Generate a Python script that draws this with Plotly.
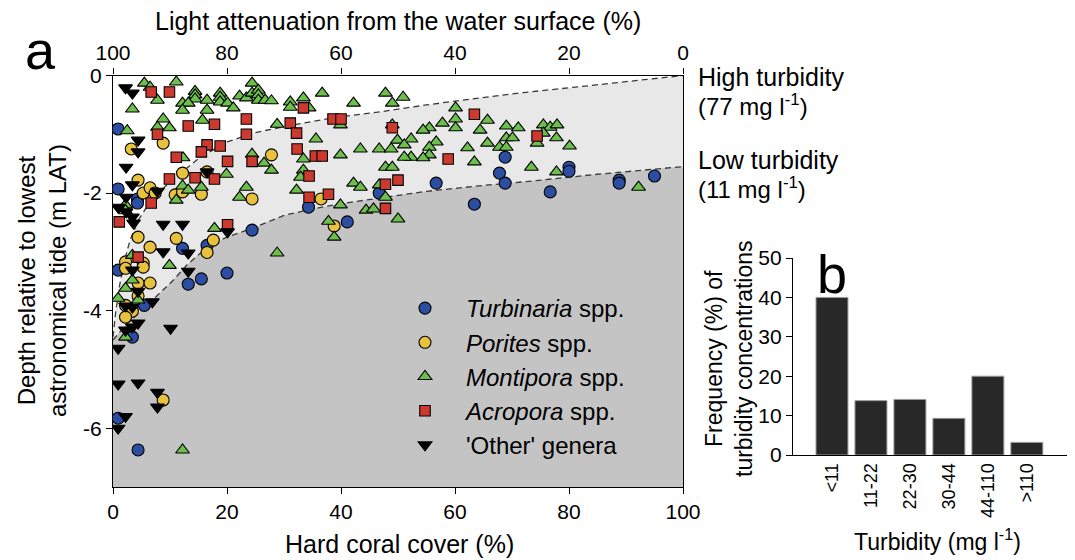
import plotly.graph_objects as go

# ---------------- data (panel a) ----------------
TURB_X = [0.9, 0.9, 4.3, 4.3, 34.3, 24.4, 41.1, 46.7, 12.2, 16.5, 68.8, 67.8, 68.8, 56.7, 63.4,
          76.7, 80.0, 80.0, 88.8, 88.8, 95.0, 0.9, 20.0, 15.5, 13.2, 5.5, 3.4, 0.9, 4.4]
TURB_Y = [-0.91, -1.93, -2.10, -2.17, -2.24, -2.63, -2.49, -2.00, -2.94, -2.89, -1.39, -1.66, -1.83, -1.83, -2.19,
          -1.98, -1.56, -1.63, -1.78, -1.83, -1.71, -3.31, -3.36, -3.46, -3.55, -3.91, -4.45, -5.83, -6.37]

POR_X = [8.8, 3.2, 4.4, 5.3, 6.5, 7.4, 12.2, 10.9, 12.2, 15.5, 24.4, 27.8, 36.5, 38.8, 4.4, 11.1,
         6.5, 17.6, 16.5, 2.2, 5.3, 2.2, 5.3, 4.4, 6.5, 4.4, 2.2, 3.4, 2.2, 8.8, 16.5]
POR_Y = [-1.15, -1.25, -1.78, -2.00, -1.91, -2.00, -1.66, -2.03, -1.98, -2.02, -2.10, -1.35, -2.10, -2.56, -2.75, -2.77,
         -2.92, -2.80, -3.01, -3.17, -3.19, -3.28, -3.26, -3.53, -3.53, -3.75, -3.91, -4.01, -4.11, -5.52, -1.64]

MONT_X = [5.5, 6.5, 11.1, 7.8, 3.4, 14.4, 14.4, 14.4, 12.2, 13.2, 12.2, 16.5, 16.5, 18.8, 18.8, 18.8,
          20.1, 21.1, 22.2, 23.4, 24.4, 24.4, 25.5, 25.5, 25.5, 26.7, 27.8, 31.1, 31.1, 33.4, 34.4, 36.7,
          42.2, 47.8, 49.0, 50.9,
          8.8, 7.8, 9.9, 2.5, 15.7, 28.8, 35.6, 39.9, 43.4, 46.7, 48.8, 49.9, 39.9, 33.4, 33.4, 32.9,
          26.5, 27.8, 24.4, 19.9, 23.4, 22.2, 15.5, 12.2, 13.2, 11.1, 32.2, 42.2, 43.4, 46.7, 47.8, 39.9,
          44.4, 45.7, 50.0, 37.8, 38.8, 17.8, 28.8, 2.2, 2.2, 12.3, 49.0,
          60.1, 60.1, 60.1, 57.8, 65.7, 64.4, 55.5, 54.4, 69.0, 71.1, 75.5, 76.7, 77.9, 75.5, 77.8, 69.0,
          70.1, 67.8, 69.0, 65.7, 62.2, 74.4, 80.1, 52.3, 51.1, 56.7, 55.5, 52.3, 51.1, 55.5, 54.4, 63.4,
          47.8, 49.0, 73.4, 77.8, 92.2,
          3.4, 9.9, 3.4, 2.2, 0.9, 4.4, 2.2, 12.2]
MONT_Y = [-0.13, -0.20, -0.11, -0.42, -0.57, -0.27, -0.33, -0.40, -0.47, -0.47, -0.59, -0.42, -0.59, -0.30, -0.37, -0.45,
          -0.47, -0.55, -0.35, -0.38, -0.13, -0.30, -0.25, -0.33, -0.42, -0.42, -0.43, -0.45, -0.54, -0.38, -0.55, -0.30,
          -0.47, -0.30, -0.47, -0.37,
          -0.74, -0.88, -0.89, -0.94, -0.76, -0.83, -1.08, -0.84, -1.25, -1.25, -1.25, -1.10, -1.35, -1.42, -1.61, -1.73,
          -1.49, -1.61, -1.34, -1.68, -1.90, -2.07, -1.90, -1.88, -1.95, -2.12, -1.95, -1.83, -1.90, -1.86, -2.07, -2.20,
          -2.29, -2.27, -2.44, -2.48, -2.75, -2.60, -3.02, -2.20, -2.30, -1.40, -0.84,
          -0.55, -0.74, -0.89, -0.81, -0.76, -0.93, -0.89, -0.93, -0.86, -0.89, -0.84, -0.88, -0.84, -0.98, -1.06, -1.06,
          -1.06, -1.22, -1.22, -1.15, -1.23, -1.15, -1.20, -1.08, -1.18, -1.13, -1.22, -1.39, -1.39, -1.35, -1.40, -1.47,
          -1.56, -1.56, -1.56, -1.64, -1.90,
          -3.06, -3.23, -3.48, -3.62, -3.79, -3.82, -4.45, -6.37]

ACR_X = [6.7, 9.9, 33.4, 23.4, 17.8, 13.2, 7.8, 23.4, 31.1, 32.2, 38.6, 40.0, 49.0, 16.5, 18.8, 15.5,
         11.1, 32.3, 20.1, 24.4, 35.5, 36.7, 34.4, 14.4, 9.9, 17.8, 34.4, 37.8, 6.7, 1.1, 20.1, 4.4,
         47.8, 47.8, 50.0, 63.4, 58.8, 74.4]
ACR_Y = [-0.28, -0.28, -0.55, -0.74, -0.83, -0.86, -1.00, -1.00, -0.81, -0.98, -0.74, -0.74, -0.89, -1.18, -1.20, -1.30,
         -1.39, -1.25, -1.46, -1.46, -1.37, -1.37, -1.71, -1.74, -1.76, -1.76, -2.07, -2.02, -2.17, -2.49, -2.54, -3.09,
         -1.85, -2.26, -1.78, -0.66, -1.42, -1.03]

OTH_X = [2.2, 3.4, 4.4, 4.4, 2.3, 3.4, 2.3, 0.9, 2.3, 3.4, 3.6, 7.8, 16.5, 8.8, 12.2, 8.8, 13.2, 20.1,
         3.4, 13.2, 4.4, 6.9, 2.2, 3.4, 4.4, 2.2, 3.4, 10.1, 0.9, 0.9, 4.4, 7.8, 7.8, 2.2, 0.9]
OTH_Y = [-0.21, -0.30, -1.10, -1.30, -1.56, -1.86, -2.07, -2.24, -2.32, -2.41, -2.51, -1.97, -1.64, -2.53, -2.53, -3.00, -3.02, -2.66,
         -3.31, -3.33, -3.67, -3.85, -3.92, -3.94, -4.21, -4.33, -4.28, -4.30, -4.64, -5.25, -5.23, -5.39, -5.64, -5.80, -6.00]

# turbidity depth curves
HIGH_X = [0, 0.5, 1.2, 2.0, 3.0, 4.5, 6.5, 9, 12, 15.3, 20, 25, 30, 38.6, 46.8, 55, 64.4, 72, 81.9, 90, 100]
HIGH_Y = [-4.45, -4.0, -3.55, -3.15, -2.8, -2.45, -2.15, -1.9, -1.65, -1.39, -1.13, -0.97, -0.87, -0.72, -0.62,
          -0.50, -0.38, -0.29, -0.19, -0.10, 0.0]
LOW_X = [0, 1, 2.2, 4.4, 7.4, 10.4, 13, 17, 20, 24.4, 30, 35, 40, 47, 55, 65, 73, 85, 100]
LOW_Y = [-4.5, -4.38, -4.25, -4.05, -3.78, -3.5, -3.22, -2.88, -2.75, -2.6, -2.38, -2.27, -2.18, -2.08, -1.97,
         -1.87, -1.80, -1.68, -1.55]

X_TICKS = [0, 20, 40, 60, 80, 100]
Y_TICKS = [0, -2, -4, -6]
Y_TICKTEXT = ["0", "-2", "-4", "-6"]
Y_MIN, Y_MAX = -7, 0

# ---------------- data (panel b) ----------------
TURB_CATS = ["<11", "11-22", "22-30", "30-44", "44-110", ">110"]
TURB_FREQ = [40, 13.8, 14.1, 9.3, 20, 3.2]
B_TICKS = [0, 10, 20, 30, 40, 50]

FONT = "Liberation Sans, Arial, sans-serif"
W, H = 1075, 560
OFF = 8  # page offset of the figure inside the browser window


def px(sx):
    return (sx - OFF) / W


def py(sy):
    return 1 - (sy - OFF) / H


fig = go.Figure()

# shaded regions
fig.add_trace(go.Scatter(x=HIGH_X + [HIGH_X[-1], HIGH_X[0]], y=HIGH_Y + [Y_MIN, Y_MIN],
                         fill="toself", fillcolor="#e8e8e8", mode="none",
                         showlegend=False, hoverinfo="skip"))
fig.add_trace(go.Scatter(x=LOW_X + [LOW_X[-1], LOW_X[0]], y=LOW_Y + [Y_MIN, Y_MIN],
                         fill="toself", fillcolor="#c4c4c4", mode="none",
                         showlegend=False, hoverinfo="skip"))
for cx, cy in ((HIGH_X, HIGH_Y), (LOW_X, LOW_Y)):
    fig.add_trace(go.Scatter(x=cx, y=cy, mode="lines",
                             line=dict(color="#3a3a3a", width=1.3, dash="6px,4px"),
                             showlegend=False, hoverinfo="skip"))


def species(x, y, name, symbol, color, size):
    fig.add_trace(go.Scatter(x=x, y=y, mode="markers", name=name,
                             marker=dict(symbol=symbol, color=color, size=size,
                                         line=dict(color="black", width=1.1))))


species(TURB_X, TURB_Y, "<i>Turbinaria</i> spp.", "circle", "#2b4ea3", 12)
species(POR_X, POR_Y, "<i>Porites</i> spp.", "circle", "#e8c23c", 12)
species(MONT_X, MONT_Y, "<i>Montipora</i> spp.", "triangle-up", "#6cbf4c", 12)
species(ACR_X, ACR_Y, "<i>Acropora</i> spp.", "square", "#cc3a2f", 10.5)
species(OTH_X, OTH_Y, "'Other' genera", "triangle-down", "black", 12)

# invisible trace to activate the top axis
fig.add_trace(go.Scatter(x=[X_TICKS[0]], y=[Y_MAX], xaxis="x2", yaxis="y", mode="markers",
                         marker=dict(opacity=0), showlegend=False, hoverinfo="skip"))

# panel b
fig.add_trace(go.Bar(x=TURB_CATS, y=TURB_FREQ, xaxis="x3", yaxis="y3", width=0.82,
                     marker=dict(color="#282828", line=dict(color="#9a9a9a", width=1)),
                     showlegend=False))

ax_common = dict(showline=True, linecolor="black", linewidth=1.3, ticks="outside",
                 tickcolor="black", ticklen=6, showgrid=False, zeroline=False, automargin=False,
                 tickfont=dict(size=21, color="black", family=FONT))

XD = [px(113), px(683)]
YD = [py(487), py(75.5)]

fig.update_layout(
    width=W, height=H, margin=dict(l=0, r=0, t=0, b=0),
    paper_bgcolor="white", plot_bgcolor="white",
    font=dict(family=FONT, color="black"),
    xaxis=dict(domain=XD, range=[0, 100], tickvals=X_TICKS, anchor="y", **ax_common),
    xaxis2=dict(domain=XD, range=[100, 0], tickvals=X_TICKS, side="top", overlaying="x",
                anchor="y", **ax_common),
    yaxis=dict(domain=YD, range=[Y_MIN, Y_MAX], tickvals=Y_TICKS, ticktext=Y_TICKTEXT,
               anchor="x", mirror=True, **ax_common),
    xaxis3=dict(domain=[px(793), px(1067)], range=[-1, 6.03], anchor="y3", type="category",
                showline=True, linecolor="black", linewidth=1.3, ticks="", showgrid=False,
                automargin=False, tickangle=-90,
                tickfont=dict(size=18, color="black", family=FONT)),
    yaxis3=dict(domain=[py(455), py(258)], range=[0, 50], tickvals=B_TICKS,
                anchor="x3", **ax_common),
    legend=dict(x=px(384), y=py(286), xanchor="left", yanchor="top",
                bgcolor="rgba(0,0,0,0)", font=dict(size=24, color="black", family=FONT),
                itemwidth=72),
    showlegend=True,
)


def ann(text, sx, sy, size=25, angle=0, xanchor="center", yanchor="middle"):
    fig.add_annotation(text=text, x=px(sx), y=py(sy), xref="paper", yref="paper",
                       showarrow=False, textangle=angle, xanchor=xanchor, yanchor=yanchor,
                       font=dict(size=size, color="black", family=FONT), align="center")


ann("Light attenuation from the water surface (%)", 398, 21)
ann("Hard coral cover (%)", 399, 544)
ann("Depth relative to lowest<br>astronomical tide (m LAT)", 42, 281, angle=-90, size=24)
ann("a", 40, 50, size=54)
ann("b", 832, 274, size=54)
ann("High turbidity", 696, 77, xanchor="left", size=25)
ann("(77 mg l<sup>-1</sup>)", 696, 105, xanchor="left", size=24)
ann("Low turbidity", 696, 160, xanchor="left", size=25)
ann("(11 mg l<sup>-1</sup>)", 696, 188, xanchor="left", size=24)
ann("Frequency (%) of<br>turbidity concentrations", 729, 359, angle=-90, size=23)
ann("Turbidity (mg l<sup>-1</sup>)", 937, 540, size=23)

fig.write_html("out.html")
